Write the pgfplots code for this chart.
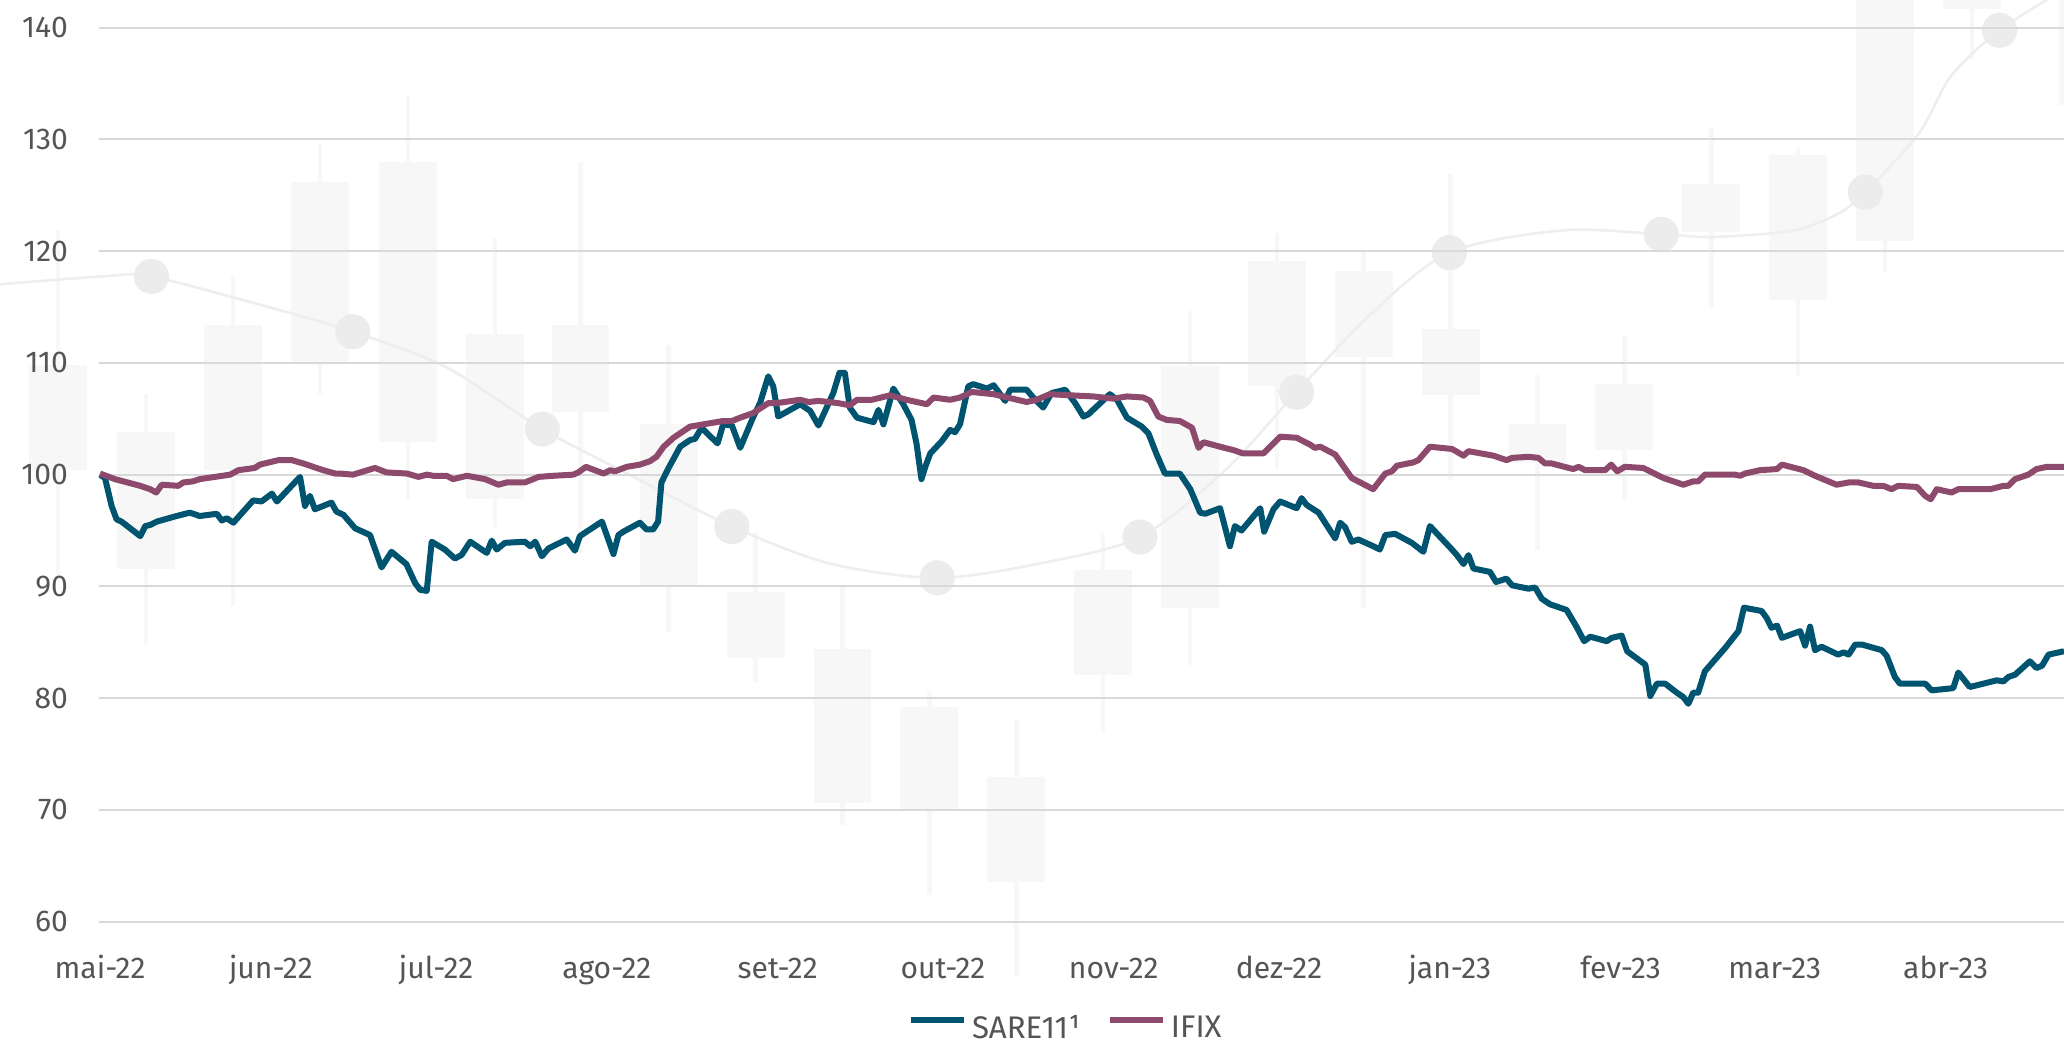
\documentclass[border=0pt]{standalone}
\usepackage{pgfplots}
\pgfplotsset{compat=1.18}
\usepackage{pgfplotstable}
\usepackage{fontspec}
\setmainfont{Fira Sans}

\definecolor{sare}{HTML}{005470}
\definecolor{ifix}{HTML}{8E4A6C}
\definecolor{gridc}{HTML}{D9D9D9}
\definecolor{labc}{HTML}{555555}
\definecolor{candle}{HTML}{F7F7F7}
\definecolor{dotc}{HTML}{ECECEC}
\definecolor{curvec}{HTML}{EEEEEE}

% watermark candles (picture coordinates, y downwards)
\pgfplotstableread{
x    wt   wb   bt   bb
44   175  440  277  357
111  299  490  328  432
177  210  460  247  357
243  109  299  138  275
310  72   379  123  336
376  181  400  254  379
441  123  420  247  313
508  262  480  322  445
574  405  518  450  500
640  445  627  493  610
706  525  680  537  615
772  547  742  590  670
838  405  556  433  513
904  236  505  278  462
970  177  356  198  293
1036 190  462  206  271
1102 132  365  250  300
1168 285  418  322  352
1234 255  380  292  342
1300 97   234  140  176
1366 112  286  118  228
1432 -10  207  -10  183
1498 -10  44   -10  7
1566 -10  80   -10  -6
}\candles

\pgfplotstableread{
x    y
0    216
78   210
115  210
203  233
268  252
339  279
412  326
485  364
556  400
630  428
712  439
790  428
866  408
930  358
985  298
1040 240
1101 192
1187 175
1262 178
1303 180
1363 175
1397 162
1417 146
1458 101
1482 58
1519 23
1568 -8
}\curve

\pgfplotstableread{
x    y
115  210
268  252
412  326
556  400
712  439
866  408
985  298
1101 192
1262 178
1417 146
1519 23
}\dots

% days since 1 May 2022, index base 100
\pgfplotstableread{
d     v
0     100.0
0.9   99.7
2.1   97.2
3.0   96.0
3.9   95.8
7.3   94.5
8.2   95.4
9.1   95.5
10.3  95.8
13.9  96.3
16.3  96.6
18.1  96.3
21.2  96.5
22.1  95.9
23.0  96.1
24.2  95.7
27.8  97.7
29.3  97.6
31.2  98.3
32.1  97.6
36.3  99.8
37.2  97.2
38.1  98.1
39.0  96.9
42.0  97.5
42.9  96.7
44.2  96.4
46.3  95.2
49.0  94.6
51.1  91.7
52.9  93.1
55.6  92.0
57.2  90.3
58.1  89.7
59.3  89.6
60.2  94.0
62.6  93.3
64.4  92.5
65.6  92.8
67.2  94.0
70.2  93.0
71.1  94.1
72.0  93.3
73.5  93.9
77.1  94.0
78.1  93.6
79.0  94.0
80.2  92.7
81.4  93.4
84.7  94.2
86.2  93.2
87.1  94.5
91.1  95.8
93.2  92.9
94.1  94.6
95.0  94.9
98.0  95.7
99.2  95.1
100.4 95.1
101.3 95.8
101.9 99.3
103.2 100.6
105.3 102.5
107.1 103.1
108.0 103.2
109.2 104.2
110.4 103.6
112.1 102.8
113.1 104.5
114.7 104.4
116.2 102.4
118.6 105.2
119.8 106.4
121.3 108.8
122.2 107.9
123.1 105.2
127.1 106.3
128.9 105.7
130.4 104.4
133.1 107.3
134.2 109.1
135.2 109.1
136.1 106.0
137.4 105.1
140.4 104.7
141.3 105.8
142.2 104.5
144.0 107.7
145.8 106.3
147.3 104.9
148.2 102.8
149.1 99.6
149.8 100.7
150.7 101.9
152.8 103.0
154.3 104.0
155.2 103.8
156.1 104.5
157.6 107.9
158.5 108.1
161.0 107.7
162.2 108.0
164.3 106.6
165.2 107.6
168.2 107.6
169.4 106.9
171.2 106.0
172.7 107.3
175.2 107.6
177.0 106.4
178.5 105.2
179.4 105.4
183.3 107.2
184.6 106.7
186.4 105.1
189.1 104.3
190.3 103.7
191.8 101.8
193.3 100.1
196.0 100.1
197.9 98.7
199.7 96.6
200.6 96.5
203.3 97.0
205.1 93.6
206.0 95.4
207.2 95.0
210.6 97.0
211.3 94.9
213.0 96.9
214.2 97.6
217.2 97.0
218.1 97.9
219.0 97.3
221.2 96.6
224.2 94.3
225.1 95.7
226.0 95.3
227.2 94.0
228.4 94.2
231.1 93.6
232.3 93.3
233.3 94.6
235.1 94.7
238.1 93.9
240.2 93.1
241.4 95.4
245.4 93.3
246.3 92.8
247.5 92.0
248.4 92.8
249.3 91.6
252.3 91.3
253.4 90.4
255.3 90.7
256.3 90.1
259.3 89.8
260.5 89.9
261.7 88.9
263.2 88.4
266.2 87.9
268.0 86.4
269.4 85.1
270.5 85.5
273.5 85.1
274.4 85.4
276.2 85.6
277.2 84.2
280.5 83.0
281.4 80.2
282.6 81.3
284.1 81.3
286.2 80.5
287.4 80.1
288.3 79.5
289.2 80.5
290.1 80.5
291.3 82.4
295.0 84.5
297.4 86.0
298.4 88.1
301.6 87.8
302.5 87.2
303.4 86.3
304.4 86.5
305.3 85.4
308.6 86.0
309.5 84.7
310.4 86.4
311.3 84.3
312.5 84.6
315.5 83.9
316.5 84.1
317.4 83.9
318.6 84.8
319.8 84.8
323.4 84.3
324.3 83.8
325.8 81.9
326.7 81.3
331.3 81.3
332.5 80.7
336.4 80.9
337.3 82.3
339.4 81.0
344.3 81.6
345.5 81.5
346.4 81.9
347.6 82.1
350.3 83.3
351.5 82.7
352.5 82.9
353.7 83.9
356.5 84.2
}\sare

\pgfplotstableread{
d     v
0     100.1
2.7   99.6
7.3   99.0
9.1   98.7
10.2  98.4
11.2  99.1
14.2  99.0
15.1  99.3
16.9  99.4
18.1  99.6
23.6  100.0
25.1  100.4
28.1  100.6
29.0  100.9
32.4  101.3
34.8  101.3
36.9  101.0
40.5  100.4
42.7  100.1
43.6  100.1
45.9  100.0
49.9  100.6
52.0  100.2
55.7  100.1
57.8  99.8
59.3  100.0
60.5  99.9
62.9  99.9
64.1  99.6
66.6  99.9
69.9  99.6
72.3  99.1
73.8  99.3
77.1  99.3
79.6  99.8
82.3  99.9
85.9  100.0
86.8  100.2
88.2  100.7
91.4  100.1
92.6  100.4
93.5  100.3
95.6  100.7
98.0  100.9
99.8  101.2
101.0 101.6
102.3 102.5
104.1 103.3
107.1 104.3
109.5 104.5
113.1 104.8
114.7 104.8
116.2 105.1
118.5 105.5
121.3 106.4
122.8 106.4
127.1 106.7
128.6 106.5
130.4 106.6
134.0 106.4
136.1 106.2
137.4 106.7
140.1 106.7
143.4 107.1
146.4 106.7
150.1 106.3
151.3 106.9
154.3 106.7
156.1 106.9
158.2 107.4
162.2 107.2
168.2 106.5
170.0 106.7
172.4 107.2
176.1 107.1
180.3 107.0
183.9 106.8
186.4 107.0
189.4 106.9
190.6 106.6
192.1 105.2
193.6 104.9
196.0 104.8
198.2 104.2
199.4 102.4
200.3 102.9
203.3 102.5
205.7 102.2
207.5 101.9
211.2 101.9
214.2 103.4
217.2 103.3
219.6 102.7
220.5 102.4
221.5 102.5
224.2 101.8
227.2 99.7
231.1 98.7
233.3 100.1
234.5 100.3
235.4 100.8
238.4 101.1
239.3 101.3
241.4 102.5
245.4 102.3
247.5 101.7
248.4 102.1
252.9 101.7
255.3 101.3
256.3 101.5
259.3 101.6
261.1 101.5
262.3 101.0
263.5 101.0
267.4 100.5
268.4 100.7
269.6 100.4
273.2 100.4
274.3 100.9
275.4 100.3
276.8 100.7
280.1 100.6
283.8 99.7
287.4 99.1
289.2 99.4
290.1 99.4
291.3 100.0
296.8 100.0
297.7 99.9
298.6 100.1
301.3 100.4
304.4 100.5
305.3 100.9
309.2 100.4
311.3 99.9
315.2 99.1
317.4 99.3
319.2 99.3
321.9 99.0
323.7 99.0
325.2 98.7
326.4 99.0
329.8 98.9
331.3 98.1
332.3 97.8
333.4 98.7
336.1 98.4
337.3 98.7
343.1 98.7
345.5 99.0
346.4 99.0
347.6 99.6
350.0 100.0
351.5 100.5
353.4 100.7
356.5 100.7
}\ifix

\begin{document}
\begin{tikzpicture}
% faint watermark behind the chart
\begin{axis}[
    at={(-15mm,-15.4mm)}, anchor=south west,
    scale only axis, width=313.6mm, height=159.4mm,
    xmin=0, xmax=1568, ymin=0, ymax=797, y dir=reverse,
    hide axis, clip=true,
]
\addplot[draw=none, forget plot, error bars/.cd, y dir=both, y explicit, error mark=none,
    error bar style={draw=candle, line width=0.7mm}]
    table[x=x, y expr={(\thisrow{wt}+\thisrow{wb})/2}, y error expr={(\thisrow{wb}-\thisrow{wt})/2}] {\candles};
\addplot[draw=none, forget plot, error bars/.cd, y dir=both, y explicit, error mark=none,
    error bar style={draw=candle, line width=8.8mm}]
    table[x=x, y expr={(\thisrow{bt}+\thisrow{bb})/2}, y error expr={(\thisrow{bb}-\thisrow{bt})/2}] {\candles};
\addplot[curvec, line width=0.4mm, smooth, forget plot] table[x=x, y=y] {\curve};
\addplot[dotc, only marks, mark=*, mark size=2.6mm, mark options={draw=dotc, fill=dotc}, forget plot] table[x=x, y=y] {\dots};
\end{axis}

\begin{axis}[
    at={(0,0)}, anchor=south west,
    scale only axis, width=298.6mm, height=144mm,
    xmin=-0.24, xmax=356.5, ymin=57.67, ymax=142.47,
    ytick={60,70,...,140},
    xtick={0,31,61,92,123,153,184,214,245,276,304,335},
    xticklabels={mai-22,jun-22,jul-22,ago-22,set-22,out-22,nov-22,dez-22,jan-23,fev-23,mar-23,abr-23},
    ymajorgrids, major grid style={gridc, line width=0.85pt},
    axis line style={draw=none}, major tick length=0pt,
    /pgf/number format/assume math mode=true,
    tick label style={font=\fontsize{13}{15}\selectfont, color=labc},
    yticklabel style={anchor=east, inner sep=0pt, xshift=-4.6mm},
    xticklabel style={anchor=base, inner sep=0pt, yshift=-4.7mm},
    clip=true,
    legend columns=2,
    legend image code/.code={\draw[#1] (0mm,0.7ex) -- (8mm,0.7ex);},
    legend style={at={(0.4916,-0.085)}, anchor=center, draw=none, fill=none,
        inner sep=0pt, font=\fontsize{13.5}{15}\selectfont, text=labc,
        nodes={inner sep=0pt},
        /tikz/every odd column/.append style={column sep=0.8mm},
        /tikz/every even column/.append style={column sep=4mm}},
]
\addplot[sare, line width=2.6pt, line join=round] table[x=d, y=v] {\sare};
\addlegendentry{SARE11¹}
\addplot[ifix, line width=2.6pt, line join=round] table[x=d, y=v] {\ifix};
\addlegendentry{IFIX}
\end{axis}

\pgfresetboundingbox
\path[use as bounding box] (-15mm,-15.4mm) rectangle (298.6mm,144mm);
\end{tikzpicture}
\end{document}
